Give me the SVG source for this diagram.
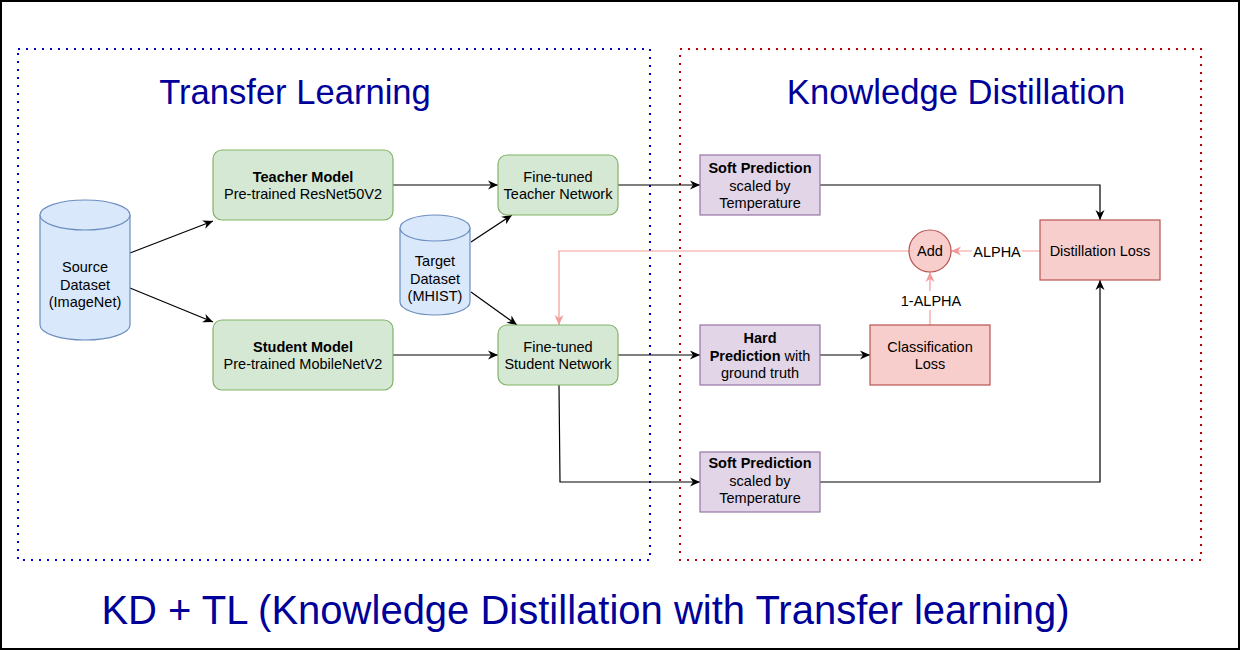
<svg xmlns="http://www.w3.org/2000/svg" width="1241" height="651" viewBox="0 0 1241 651">
<style>
text{font-family:"Liberation Sans",Arial,sans-serif;fill:#000;text-anchor:middle}
.t{font-size:14.5px}
.b{font-weight:bold}
.title{font-size:34.6px;fill:#000099}
.big{font-size:40px;fill:#000099}
.green{fill:#d5e8d4;stroke:#82b366;stroke-width:1.2}
.purple{fill:#e1d5e7;stroke:#9673a6;stroke-width:1.2}
.red{fill:#f8cecc;stroke:#b85450;stroke-width:1.2}
.blue{fill:#dae8fc;stroke:#6c8ebf;stroke-width:1.2}
.c{fill:none;stroke:#000;stroke-width:1.2}
.p{fill:none;stroke:#f19c99;stroke-width:1.2}
</style>
<defs>
<marker id="ab" markerUnits="userSpaceOnUse" markerWidth="12" markerHeight="12" refX="10" refY="6" orient="auto">
<path d="M0,1.5 L10,6 L0,10.5 L3,6 Z" fill="#000"/>
</marker>
<marker id="ap" markerUnits="userSpaceOnUse" markerWidth="12" markerHeight="12" refX="10" refY="6" orient="auto">
<path d="M0,1.5 L10,6 L0,10.5 L3,6 Z" fill="#f19c99"/>
</marker>
</defs>
<rect x="0" y="0" width="1241" height="651" fill="#fff"/>
<rect x="1" y="1" width="1238" height="648" fill="none" stroke="#000" stroke-width="2"/>

<g id="frame-tl">
<rect x="18" y="49" width="632" height="511" fill="none" stroke="#0000cc" stroke-width="2" stroke-dasharray="2 6"/>
<text class="title" x="295" y="104">Transfer Learning</text>
</g>
<g id="frame-kd">
<rect x="680" y="49" width="521" height="511" fill="none" stroke="#b80000" stroke-width="2" stroke-dasharray="2 6"/>
<text class="title" x="956" y="104">Knowledge Distillation</text>
</g>

<g id="connectors">
<path class="c" d="M130,253 L213,221" marker-end="url(#ab)"/>
<path class="c" d="M130,288 L213,322" marker-end="url(#ab)"/>
<path class="c" d="M393,185 L498,185" marker-end="url(#ab)"/>
<path class="c" d="M393,355 L498,355" marker-end="url(#ab)"/>
<path class="c" d="M471,242 L512,215" marker-end="url(#ab)"/>
<path class="c" d="M471,292 L517,325" marker-end="url(#ab)"/>
<path class="c" d="M618,185 L700,185" marker-end="url(#ab)"/>
<path class="c" d="M618,355 L700,355" marker-end="url(#ab)"/>
<path class="c" d="M820,185 L1100,185 L1100,220" marker-end="url(#ab)"/>
<path class="c" d="M559,385 L560,482 L700,482" marker-end="url(#ab)"/>
<path class="c" d="M820,482 L1100,482 L1100,280" marker-end="url(#ab)"/>
<path class="c" d="M820,355 L870,355" marker-end="url(#ab)"/>
<path class="p" d="M930,325 L930,272" marker-end="url(#ap)"/>
<path class="p" d="M1040,251 L951,251" marker-end="url(#ap)"/>
<path class="p" d="M909,251 L559,251 L559,325" marker-end="url(#ap)"/>
<rect x="897" y="291" width="66" height="19" fill="#fff"/>
<text class="t" x="931" y="306">1-ALPHA</text>
<rect x="972" y="243" width="50" height="18" fill="#fff"/>
<text class="t" x="997" y="257">ALPHA</text>
</g>

<g id="source-dataset">
<path class="blue" d="M40,215 A45,15 0 0 1 130,215 L130,325 A45,15 0 0 1 40,325 Z"/>
<path class="blue" d="M40,215 A45,15 0 0 0 130,215" fill="none"/>
<text class="t" x="85" y="272">Source</text>
<text class="t" x="85" y="289.5">Dataset</text>
<text class="t" x="85" y="307">(ImageNet)</text>
</g>

<g id="target-dataset">
<path class="blue" d="M400,228 A35,13 0 0 1 470,228 L470,302 A35,13 0 0 1 400,302 Z"/>
<path class="blue" d="M400,228 A35,13 0 0 0 470,228" fill="none"/>
<text class="t" x="435" y="266">Target</text>
<text class="t" x="435" y="283.5">Dataset</text>
<text class="t" x="435" y="301">(MHIST)</text>
</g>

<g id="teacher-model">
<rect class="green" x="213" y="150" width="180" height="70" rx="9"/>
<text class="t b" x="303" y="181.5">Teacher Model</text>
<text class="t" x="303" y="199">Pre-trained ResNet50V2</text>
</g>

<g id="student-model">
<rect class="green" x="213" y="320" width="180" height="70" rx="9"/>
<text class="t b" x="303" y="351.5">Student Model</text>
<text class="t" x="303" y="369">Pre-trained MobileNetV2</text>
</g>

<g id="ft-teacher">
<rect class="green" x="498" y="155" width="120" height="60" rx="9"/>
<text class="t" x="558" y="181.5">Fine-tuned</text>
<text class="t" x="558" y="199">Teacher Network</text>
</g>

<g id="ft-student">
<rect class="green" x="498" y="325" width="120" height="60" rx="9"/>
<text class="t" x="558" y="351.5">Fine-tuned</text>
<text class="t" x="558" y="369">Student Network</text>
</g>

<g id="soft-pred-1">
<rect class="purple" x="700" y="155" width="120" height="60"/>
<text class="t b" x="760" y="173">Soft Prediction</text>
<text class="t" x="760" y="190.5">scaled by</text>
<text class="t" x="760" y="208">Temperature</text>
</g>

<g id="hard-pred">
<rect class="purple" x="700" y="325" width="120" height="60"/>
<text class="t b" x="760" y="343">Hard</text>
<text class="t" x="760" y="360.5"><tspan class="b">Prediction</tspan> with</text>
<text class="t" x="760" y="378">ground truth</text>
</g>

<g id="soft-pred-2">
<rect class="purple" x="700" y="452" width="120" height="60"/>
<text class="t b" x="760" y="468">Soft Prediction</text>
<text class="t" x="760" y="485.5">scaled by</text>
<text class="t" x="760" y="503">Temperature</text>
</g>

<g id="distillation-loss">
<rect class="red" x="1040" y="220" width="120" height="60"/>
<text class="t" x="1100" y="256">Distillation Loss</text>
</g>

<g id="classification-loss">
<rect class="red" x="870" y="325" width="120" height="60"/>
<text class="t" x="930" y="351.5">Classification</text>
<text class="t" x="930" y="369">Loss</text>
</g>

<g id="add">
<circle class="red" cx="930" cy="251" r="21"/>
<text class="t" x="930" y="256">Add</text>
</g>

<text class="big" x="585.5" y="624">KD + TL (Knowledge Distillation with Transfer learning)</text>
</svg>
